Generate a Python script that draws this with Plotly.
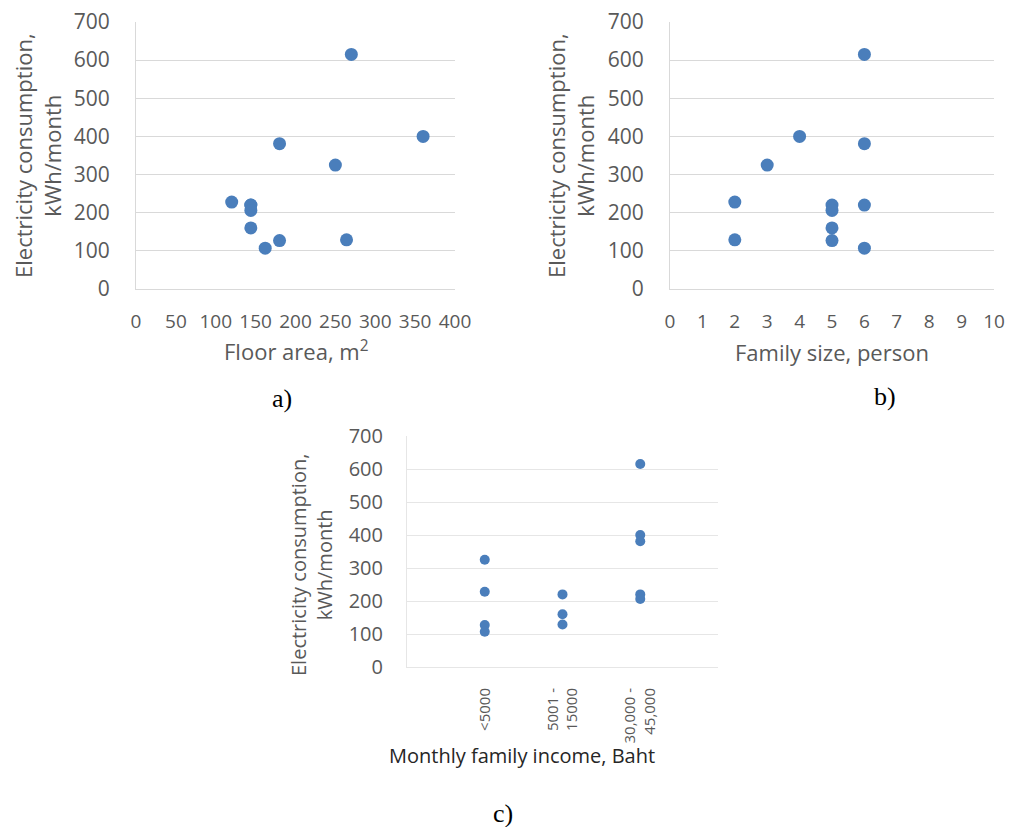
import plotly.graph_objects as go

# ---- data (12 households) ----
consumption = [615, 400, 381, 325, 228, 220, 220, 206, 160, 129, 127, 107]
floor_area = [270, 360, 180, 250, 120, 144, 144, 144, 144, 264, 180, 162]
family_size = [6, 4, 6, 3, 2, 5, 6, 5, 5, 2, 5, 6]
income_group = [3, 3, 3, 1, 1, 2, 3, 3, 2, 2, 1, 1]
income_labels = ["<5000", "5001 -<br>15000", "30,000 -<br>45,000"]
income_ticks = [1, 2, 3]
consumption_c = [615, 400, 381, 325, 228, 220, 220, 206, 160, 129, 127, 107]

W, H = 1010, 827
FONT = "Open Sans"
GRAY = "#595959"
GRID = "#d9d9d9"
BLUE = "#4A7EBB"


def px(x):
    return x / W


def py(y):
    return 1 - y / H


fig = go.Figure()
fig.add_trace(go.Scatter(x=floor_area, y=consumption, mode="markers",
                         marker=dict(color=BLUE, size=13), xaxis="x", yaxis="y"))
fig.add_trace(go.Scatter(x=family_size, y=consumption, mode="markers",
                         marker=dict(color=BLUE, size=13), xaxis="x2", yaxis="y2"))
fig.add_trace(go.Scatter(x=income_group, y=consumption_c, mode="markers",
                         marker=dict(color=BLUE, size=10), xaxis="x3", yaxis="y3"))


def yax(dom, anchor, size, tl):
    return dict(domain=dom, anchor=anchor, range=[0, 700], dtick=100,
                showgrid=True, gridcolor=GRID, gridwidth=1, zeroline=False,
                showline=True, linecolor=GRID, linewidth=1, automargin=False,
                ticks="outside", ticklen=tl, tickcolor="rgba(0,0,0,0)",
                tickfont=dict(family=FONT, size=size, color=GRAY), fixedrange=True)


def xax(dom, anchor, rng, size, tl, **kw):
    d = dict(domain=dom, anchor=anchor, range=rng, showgrid=False, zeroline=False,
             showline=True, linecolor=GRID, linewidth=1, automargin=False,
             ticks="outside", ticklen=tl, tickcolor="rgba(0,0,0,0)",
             tickfont=dict(family=FONT, size=size, color=GRAY), fixedrange=True)
    d.update(kw)
    return d


ya = [py(289), py(22)]
yc = [py(667), py(436)]

fig.update_layout(
    width=W, height=H, margin=dict(l=0, r=0, t=0, b=0, autoexpand=False),
    paper_bgcolor="white", plot_bgcolor="white", showlegend=False,
    xaxis=xax([px(136), px(455)], "y", [0, 400], 19, 15, dtick=50),
    yaxis=yax(ya, "x", 21, 21),
    xaxis2=xax([px(670), px(994)], "y2", [0, 10], 19, 15, dtick=1),
    yaxis2=yax(ya, "x2", 21, 21),
    xaxis3=xax([px(407), px(718)], "y3", [0, 4], 15, 14,
               tickvals=income_ticks, ticktext=income_labels, tickangle=-90),
    yaxis3=yax(yc, "x3", 20, 19),
)
fig.update_layout(yaxis3=dict(gridcolor="#e6e6e6", linecolor="#e6e6e6"),
                  xaxis3=dict(linecolor="#e6e6e6"))

ann = []


def add_text(text, x, y, size, color=GRAY, angle=0, family=FONT):
    ann.append(dict(text=text, x=px(x), y=py(y), xref="paper", yref="paper",
                    xanchor="center", yanchor="middle", showarrow=False,
                    textangle=angle, font=dict(family=family, size=size, color=color)))


add_text("Electricity consumption,<br>kWh/month", 37, 156, 22, angle=-90)
add_text("Electricity consumption,<br>kWh/month", 570, 156, 22, angle=-90)
add_text("Electricity consumption,<br>kWh/month", 311, 565, 20, angle=-90)
add_text("Floor area, m<sup>2</sup>", 296, 350, 22)
add_text("Family size, person", 832, 352, 22)
add_text("Monthly family income, Baht", 522, 755, 20, color="#262626")
add_text("a)", 282, 398, 26, color="black", family="Liberation Serif")
add_text("b)", 885, 397, 26, color="black", family="Liberation Serif")
add_text("c)", 503, 813, 26, color="black", family="Liberation Serif")
fig.update_layout(annotations=ann)

fig.write_html("out.html")
